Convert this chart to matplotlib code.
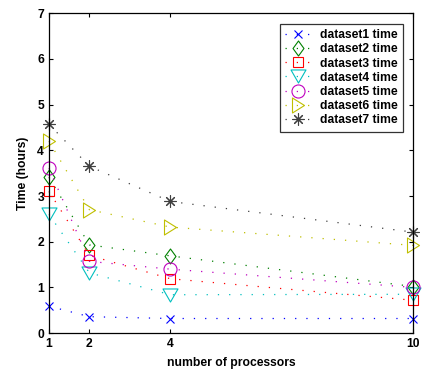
import matplotlib
matplotlib.use("Agg")
import matplotlib.pyplot as plt
from matplotlib.path import Path

plt.rcParams['font.family'] = ['Liberation Sans', 'DejaVu Sans']
plt.rcParams['font.weight'] = 'bold'

processors = [1, 2, 4, 10]
dataset1 = [0.59, 0.36, 0.32, 0.32]
dataset2 = [3.41, 1.93, 1.69, 1.02]
dataset3 = [3.10, 1.70, 1.19, 0.72]
dataset4 = [2.60, 1.32, 0.84, 0.85]
dataset5 = [3.61, 1.57, 1.40, 1.00]
dataset6 = [4.20, 2.70, 2.32, 1.92]
dataset7 = [4.57, 3.65, 2.88, 2.21]
labels = ['dataset1 time', 'dataset2 time', 'dataset3 time', 'dataset4 time',
          'dataset5 time', 'dataset6 time', 'dataset7 time']
x_ticks = [1, 2, 4, 10]
y_ticks = [0, 1, 2, 3, 4, 5, 6, 7]

series = [dataset1, dataset2, dataset3, dataset4, dataset5, dataset6, dataset7]

# marker shapes: narrow diamond, wide down-triangle, narrow right-triangle, 8-arm asterisk
diamond = Path([(0, 1), (0.73, 0), (0, -1), (-0.73, 0), (0, 1)], closed=True)
tri_down = Path([(-1, 0.87), (1, 0.87), (0, -0.87), (-1, 0.87)], closed=True)
tri_right = Path([(-0.8, 1), (0.8, 0), (-0.8, -1), (-0.8, 1)], closed=True)

colors = ['#0000ff', '#008000', '#ff0000', '#00bfbf', '#bf00bf', '#bfbf00', '#404040']
markers = ['x', diamond, 's', tri_down, 'o', tri_right, (8, 2, 0)]
msizes = [5.8, 10.8, 7.2, 10.8, 9.4, 10.8, 8.6]

fig = plt.figure(figsize=(4.22, 3.76), dpi=100)
ax = fig.add_axes([0.116, 0.114, 0.863, 0.851])

for vals, c, m, ms, lab in zip(series, colors, markers, msizes, labels):
    ax.plot(processors, vals, linestyle=(0, (1, 8)), color=c, marker=m, markersize=ms,
            markerfacecolor='none', markeredgecolor=c, markeredgewidth=0.8,
            linewidth=0.9, label=lab, clip_on=False)

ax.set_xlim(1, 10)
ax.set_ylim(0, 7)
ax.set_xticks(x_ticks)
ax.set_yticks(y_ticks)
ax.tick_params(direction='in', top=True, right=True, labelsize=8.7, length=3, width=0.8)
for s in ax.spines.values():
    s.set_linewidth(0.9)
ax.set_xlabel('number of processors', fontsize=8.7, fontweight='bold', labelpad=5)
ax.set_ylabel('Time (hours)', fontsize=8.7, fontweight='bold', labelpad=6)

leg = ax.legend(loc='upper right', bbox_to_anchor=(0.973, 0.967), fontsize=8.7,
                frameon=True, fancybox=False, edgecolor='black', handlelength=2.2,
                handletextpad=0.7, labelspacing=0.18, borderpad=0.45, borderaxespad=0)
leg.get_frame().set_linewidth(0.9)

fig.savefig('out.png', dpi=100, facecolor='white')
